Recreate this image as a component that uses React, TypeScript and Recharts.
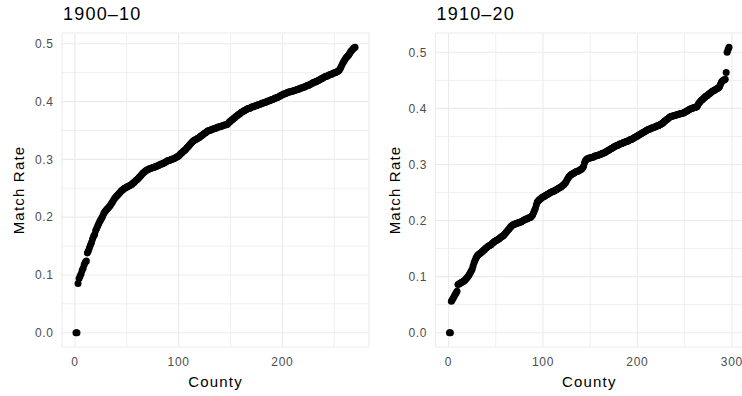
import { ScatterChart, Scatter, XAxis, YAxis, CartesianGrid, ReferenceLine } from "recharts";

// sorted county match rates, one value per county
const rates1900 = [
  0, 0, 0.085, 0.094, 0.098, 0.102, 0.108, 0.112, 0.118, 0.122,
  0.124, 0.138, 0.142, 0.147, 0.152, 0.156, 0.162, 0.167, 0.17, 0.177,
  0.181, 0.185, 0.189, 0.193, 0.196, 0.199, 0.203, 0.207, 0.21, 0.212,
  0.214, 0.216, 0.218, 0.22, 0.223, 0.226, 0.229, 0.232, 0.234, 0.236,
  0.238, 0.24, 0.242, 0.244, 0.246, 0.247, 0.249, 0.25, 0.251, 0.252,
  0.253, 0.254, 0.255, 0.256, 0.257, 0.259, 0.26, 0.262, 0.264, 0.265,
  0.267, 0.269, 0.271, 0.273, 0.275, 0.277, 0.278, 0.28, 0.281, 0.282,
  0.283, 0.284, 0.284, 0.285, 0.286, 0.286, 0.287, 0.288, 0.288, 0.289,
  0.29, 0.291, 0.292, 0.292, 0.293, 0.294, 0.295, 0.296, 0.297, 0.298,
  0.298, 0.299, 0.3, 0.3, 0.301, 0.302, 0.303, 0.304, 0.305, 0.306,
  0.308, 0.31, 0.311, 0.313, 0.315, 0.316, 0.318, 0.32, 0.322, 0.324,
  0.326, 0.328, 0.33, 0.332, 0.333, 0.334, 0.335, 0.336, 0.337, 0.338,
  0.34, 0.341, 0.342, 0.344, 0.345, 0.346, 0.348, 0.349, 0.35, 0.35,
  0.351, 0.352, 0.352, 0.353, 0.354, 0.354, 0.355, 0.356, 0.356, 0.357,
  0.357, 0.358, 0.359, 0.359, 0.36, 0.36, 0.361, 0.363, 0.365, 0.366,
  0.368, 0.369, 0.371, 0.372, 0.374, 0.375, 0.377, 0.378, 0.379, 0.381,
  0.382, 0.383, 0.384, 0.385, 0.386, 0.387, 0.388, 0.388, 0.389, 0.39,
  0.391, 0.391, 0.392, 0.393, 0.393, 0.394, 0.395, 0.395, 0.396, 0.397,
  0.397, 0.398, 0.399, 0.399, 0.4, 0.401, 0.401, 0.402, 0.403, 0.403,
  0.404, 0.405, 0.406, 0.406, 0.407, 0.408, 0.409, 0.41, 0.411, 0.412,
  0.413, 0.413, 0.414, 0.415, 0.416, 0.416, 0.417, 0.417, 0.418, 0.418,
  0.419, 0.419, 0.42, 0.421, 0.421, 0.422, 0.423, 0.423, 0.424, 0.425,
  0.425, 0.426, 0.427, 0.428, 0.428, 0.429, 0.43, 0.431, 0.432, 0.433,
  0.434, 0.434, 0.435, 0.436, 0.437, 0.438, 0.439, 0.44, 0.441, 0.442,
  0.443, 0.444, 0.444, 0.445, 0.446, 0.447, 0.447, 0.448, 0.449, 0.45,
  0.45, 0.451, 0.452, 0.453, 0.455, 0.458, 0.462, 0.466, 0.469, 0.472,
  0.475, 0.477, 0.479, 0.481, 0.484, 0.487, 0.489, 0.491, 0.493, 0.494,
];

const rates1910 = [
  0, 0, 0.056, 0.059, 0.062, 0.065, 0.068, 0.071, 0.074, 0.086,
  0.087, 0.088, 0.089, 0.09, 0.091, 0.092, 0.093, 0.095, 0.097, 0.099,
  0.101, 0.104, 0.107, 0.11, 0.113, 0.119, 0.125, 0.129, 0.133, 0.136,
  0.138, 0.14, 0.141, 0.142, 0.144, 0.145, 0.147, 0.148, 0.15, 0.151,
  0.153, 0.154, 0.155, 0.156, 0.157, 0.159, 0.16, 0.162, 0.163, 0.164,
  0.165, 0.166, 0.167, 0.168, 0.17, 0.171, 0.172, 0.173, 0.175, 0.177,
  0.179, 0.181, 0.183, 0.185, 0.187, 0.189, 0.191, 0.192, 0.193, 0.194,
  0.194, 0.195, 0.195, 0.196, 0.197, 0.197, 0.198, 0.199, 0.2, 0.201,
  0.202, 0.203, 0.203, 0.204, 0.205, 0.205, 0.206, 0.208, 0.21, 0.214,
  0.218, 0.222, 0.228, 0.233, 0.235, 0.237, 0.238, 0.24, 0.241, 0.242,
  0.243, 0.244, 0.245, 0.246, 0.247, 0.248, 0.249, 0.25, 0.251, 0.252,
  0.252, 0.253, 0.254, 0.255, 0.256, 0.257, 0.258, 0.259, 0.26, 0.261,
  0.263, 0.264, 0.266, 0.268, 0.271, 0.274, 0.277, 0.279, 0.281, 0.282,
  0.283, 0.284, 0.285, 0.286, 0.287, 0.288, 0.288, 0.289, 0.29, 0.291,
  0.292, 0.294, 0.297, 0.303, 0.307, 0.309, 0.31, 0.311, 0.311, 0.312,
  0.312, 0.313, 0.313, 0.314, 0.315, 0.315, 0.316, 0.316, 0.317, 0.318,
  0.318, 0.319, 0.32, 0.32, 0.321, 0.322, 0.323, 0.324, 0.325, 0.326,
  0.327, 0.328, 0.329, 0.33, 0.331, 0.332, 0.333, 0.334, 0.334, 0.335,
  0.336, 0.337, 0.337, 0.338, 0.339, 0.339, 0.34, 0.341, 0.341, 0.342,
  0.343, 0.344, 0.344, 0.345, 0.346, 0.347, 0.348, 0.349, 0.35, 0.351,
  0.352, 0.353, 0.354, 0.355, 0.356, 0.357, 0.358, 0.359, 0.36, 0.361,
  0.362, 0.363, 0.363, 0.364, 0.365, 0.365, 0.366, 0.367, 0.367, 0.368,
  0.369, 0.369, 0.37, 0.371, 0.372, 0.373, 0.374, 0.376, 0.377, 0.379,
  0.38, 0.381, 0.383, 0.384, 0.385, 0.386, 0.386, 0.387, 0.387, 0.388,
  0.388, 0.389, 0.389, 0.39, 0.39, 0.391, 0.391, 0.392, 0.392, 0.393,
  0.394, 0.395, 0.396, 0.397, 0.398, 0.399, 0.4, 0.4, 0.401, 0.401,
  0.402, 0.402, 0.403, 0.406, 0.409, 0.411, 0.413, 0.415, 0.416, 0.418,
  0.419, 0.421, 0.422, 0.423, 0.425, 0.426, 0.427, 0.429, 0.43, 0.431,
  0.432, 0.433, 0.434, 0.435, 0.436, 0.437, 0.439, 0.443, 0.447, 0.449,
  0.45, 0.451, 0.452, 0.464, 0.5, 0.505, 0.509,
];

const xMajor1900 = [0, 100, 200];
const xMajor1910 = [0, 100, 200, 300];
const xMinor = [50, 150, 250];
const yMajor = [0, 0.1, 0.2, 0.3, 0.4, 0.5];
const yMinor = [0.05, 0.15, 0.25, 0.35, 0.45];

const FONT = '"Liberation Sans", Arial, sans-serif';
const GRID = "#EBEBEB";

const tickStyle = { fill: "#4D4D4D", fontSize: 12, fontFamily: FONT, letterSpacing: 0.7 };
const axisTitleStyle = { fill: "#000", fontSize: 15, fontFamily: FONT, letterSpacing: 1.2 };

type PanelProps = {
  title: string;
  rates: number[];
  xMajor: number[];
  left: number;
  marginLeft: number;
  marginRight: number;
  labelOffset: number;
};

function Panel({ title, rates, xMajor, left, marginLeft, marginRight, labelOffset }: PanelProps) {
  const data = rates.map((rate, i) => ({ county: i + 1, rate }));
  const n = rates.length;
  // ggplot-style 5% expansion on both axes
  const xPad = (n - 1) * 0.05;
  const yMax = Math.max(...rates);
  const yPad = yMax * 0.05;
  const plotLeft = marginLeft + 55;

  return (
    <div style={{ position: "absolute", left, top: 0, width: 380, height: 396 }}>
      <div
        style={{
          position: "absolute",
          left: plotLeft + 1,
          top: 5,
          fontFamily: FONT,
          fontSize: 18,
          letterSpacing: 1.2,
          lineHeight: "18px",
          color: "#000",
          whiteSpace: "nowrap",
        }}
      >
        {title}
      </div>
      <ScatterChart
        width={380}
        height={396}
        margin={{ top: 33, right: marginRight, bottom: 0, left: marginLeft }}
      >
        <CartesianGrid stroke={GRID} strokeWidth={1.1} />
        {xMinor.map((v) => (
          <ReferenceLine key={`x${v}`} x={v} stroke={GRID} strokeWidth={0.8} />
        ))}
        {yMinor.map((v) => (
          <ReferenceLine key={`y${v}`} y={v} stroke={GRID} strokeWidth={0.8} />
        ))}
        <XAxis
          type="number"
          dataKey="county"
          domain={[1 - xPad, n + xPad]}
          allowDataOverflow
          ticks={xMajor}
          height={49}
          axisLine={false}
          tickLine={false}
          tickSize={0}
          tickMargin={10}
          tick={tickStyle}
          label={{
            value: "County",
            position: "insideBottom",
            offset: 9,
            style: axisTitleStyle,
          }}
        />
        <YAxis
          type="number"
          dataKey="rate"
          domain={[-yPad, yMax + yPad]}
          allowDataOverflow
          ticks={yMajor}
          width={55}
          axisLine={false}
          tickLine={false}
          tickSize={0}
          tickMargin={8.3}
          tickFormatter={(v: number) => v.toFixed(1)}
          tick={tickStyle}
          label={{
            value: "Match Rate",
            angle: -90,
            position: "insideLeft",
            offset: labelOffset,
            style: { ...axisTitleStyle, textAnchor: "middle" },
          }}
        />
        <Scatter
          data={data}
          fill="#000"
          isAnimationActive={false}
          shape={(p: any) => <circle cx={p.cx} cy={p.cy} r={3.5} fill="#000" />}
        />
      </ScatterChart>
    </div>
  );
}

export default function App() {
  return (
    <div
      style={{
        position: "absolute",
        left: 0,
        top: 0,
        width: 742,
        height: 396,
        overflow: "hidden",
        background: "#fff",
      }}
    >
      <Panel
        title="1900–10"
        rates={rates1900}
        xMajor={xMajor1900}
        left={0}
        marginLeft={7}
        marginRight={11}
        labelOffset={12}
      />
      <Panel
        title="1910–20"
        rates={rates1910}
        xMajor={xMajor1910}
        left={370}
        marginLeft={10.5}
        marginRight={7}
        labelOffset={14.5}
      />
    </div>
  );
}
